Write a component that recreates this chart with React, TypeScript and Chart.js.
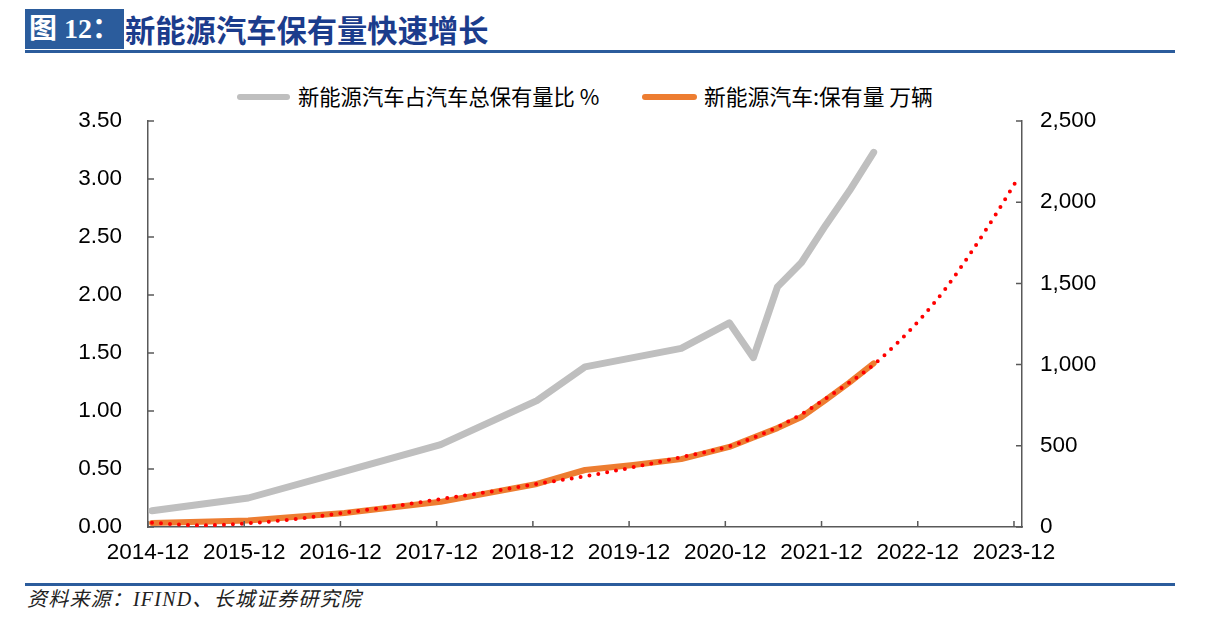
import React, { useEffect, useRef } from "react";
import { Chart, registerables } from "chart.js";

Chart.register(...registerables);

// ---- data ----
const xTickLabels = [
  "2014-12", "2015-12", "2016-12", "2017-12", "2018-12",
  "2019-12", "2020-12", "2021-12", "2022-12", "2023-12",
];

const shareDates = [
  "2014-12", "2015-12", "2016-12", "2017-12", "2018-12", "2019-06",
  "2020-06", "2020-12", "2021-03", "2021-06", "2021-09", "2021-12",
  "2022-03", "2022-06",
];
const shareValues = [
  0.14, 0.25, 0.48, 0.71, 1.09, 1.38, 1.54, 1.76, 1.46, 2.07, 2.28, 2.6, 2.9, 3.23,
];

const stockDates = [
  "2014-12", "2015-12", "2016-12", "2017-12", "2018-12", "2019-06",
  "2019-12", "2020-06", "2020-12", "2021-03", "2021-06", "2021-09",
  "2021-12", "2022-03", "2022-06",
];
const stockValues = [
  25, 40, 86, 155, 265, 351, 382, 418, 493, 551, 609, 677, 782, 891, 1008,
];

const trendDates = [
  "2014-12", "2015-06", "2015-12", "2016-06", "2016-12", "2017-06",
  "2017-12", "2018-06", "2018-12", "2019-06", "2019-12", "2020-06",
  "2020-12", "2021-03", "2021-06", "2021-09", "2021-12", "2022-03",
  "2022-06", "2022-09", "2022-12", "2023-03", "2023-06", "2023-09",
  "2023-12",
];
const trendValues = [
  26, 10, 23, 50, 88, 127, 172, 216, 266, 312, 368, 430,
  497, 550, 615, 695, 790, 890, 1000, 1135, 1290, 1470, 1680, 1907, 2147,
];

const legendShare = "新能源汽车占汽车总保有量比 %";
const legendStock = "新能源汽车:保有量 万辆";
const titleBox = "图 12：";
const titleText = "新能源汽车保有量快速增长";
const sourceText = "资料来源：IFIND、长城证券研究院";

// month index relative to 2014-12
const monthIndex = (s: string) => {
  const [y, m] = s.split("-").map(Number);
  return (y - 2014) * 12 + (m - 12);
};
// points sit in the middle of their month slot (date axis, between tick marks)
const toPoints = (dates: string[], vals: number[]) =>
  dates.map((d, i) => ({ x: monthIndex(d) + 0.5, y: vals[i] }));

const insideTicks = {
  id: "insideTicks",
  afterDraw(chart: any) {
    const { ctx, chartArea } = chart;
    const x = chart.scales.x;
    const yl = chart.scales.y;
    const yr = chart.scales.y2;
    ctx.save();
    ctx.strokeStyle = "#595959";
    ctx.lineWidth = 1.5;
    ctx.beginPath();
    x.ticks.forEach((t: any) => {
      const px = x.getPixelForValue(t.value);
      ctx.moveTo(px, chartArea.bottom);
      ctx.lineTo(px, chartArea.bottom - 6);
    });
    yl.ticks.forEach((t: any) => {
      const py = yl.getPixelForValue(t.value);
      ctx.moveTo(chartArea.left, py);
      ctx.lineTo(chartArea.left + 6, py);
    });
    yr.ticks.forEach((t: any) => {
      const py = yr.getPixelForValue(t.value);
      ctx.moveTo(chartArea.right, py);
      ctx.lineTo(chartArea.right - 6, py);
    });
    ctx.stroke();
    ctx.restore();
  },
};

const tickFont = { family: "'Liberation Sans', Arial, sans-serif", size: 22.5 };

export default function App() {
  const ref = useRef<HTMLCanvasElement | null>(null);

  useEffect(() => {
    if (!ref.current) return;
    const chart = new Chart(ref.current, {
      type: "line",
      data: {
        datasets: [
          {
            label: legendShare,
            data: toPoints(shareDates, shareValues),
            yAxisID: "y",
            borderColor: "#BFBFBF",
            borderWidth: 7,
            pointRadius: 0,
            tension: 0,
            borderJoinStyle: "round",
            borderCapStyle: "round",
            order: 3,
          },
          {
            label: legendStock,
            data: toPoints(stockDates, stockValues),
            yAxisID: "y2",
            borderColor: "#ED7D31",
            borderWidth: 6,
            pointRadius: 0,
            tension: 0,
            borderJoinStyle: "round",
            borderCapStyle: "round",
            order: 2,
          },
          {
            label: "trend",
            data: toPoints(trendDates, trendValues),
            yAxisID: "y2",
            borderColor: "#FF0000",
            borderWidth: 4,
            borderDash: [0, 9],
            borderCapStyle: "round",
            pointRadius: 0,
            cubicInterpolationMode: "monotone",
            order: 1,
          },
        ],
      },
      options: {
        animation: false,
        responsive: false,
        maintainAspectRatio: false,
        layout: { padding: { top: 61, left: 0, right: 0, bottom: 0 } },
        plugins: {
          legend: { display: false },
          tooltip: { enabled: false },
        },
        scales: {
          x: {
            type: "linear",
            min: 0,
            max: 109,
            afterBuildTicks: (s: any) => {
              s.ticks = xTickLabels.map((l) => ({ value: monthIndex(l) }));
            },
            afterFit: (s: any) => {
              s.height = 53;
            },
            ticks: {
              autoSkip: false,
              maxRotation: 0,
              padding: 12,
              color: "#000",
              font: tickFont,
              callback: (v: any) => {
                const i = xTickLabels.findIndex((l) => monthIndex(l) === v);
                return i >= 0 ? xTickLabels[i] : "";
              },
            },
            grid: { display: true, drawOnChartArea: false, drawTicks: false },
            border: { display: true, color: "#595959", width: 1.5 },
          },
          y: {
            type: "linear",
            position: "left",
            min: 0,
            max: 3.5,
            afterFit: (s: any) => {
              s.width = 148;
            },
            ticks: {
              stepSize: 0.5,
              padding: 26,
              color: "#000",
              font: tickFont,
              callback: (v: any) => Number(v).toFixed(2),
            },
            grid: { display: true, drawOnChartArea: false, drawTicks: false },
            border: { display: true, color: "#595959", width: 1.5 },
          },
          y2: {
            type: "linear",
            position: "right",
            min: 0,
            max: 2500,
            afterFit: (s: any) => {
              s.width = 194;
            },
            ticks: {
              stepSize: 500,
              padding: 18,
              color: "#000",
              font: tickFont,
              callback: (v: any) => Number(v).toLocaleString("en-US"),
            },
            grid: { display: true, drawOnChartArea: false, drawTicks: false },
            border: { display: true, color: "#595959", width: 1.5 },
          },
        },
      },
      plugins: [insideTicks],
    } as any);
    return () => chart.destroy();
  }, []);

  const cjkSans = "'Noto Sans CJK SC', 'Noto Sans', sans-serif";
  const serif = "'Liberation Serif', 'Noto Sans CJK SC', serif";

  return (
    <div
      style={{
        position: "absolute",
        left: 0,
        top: 0,
        width: 1216,
        height: 628,
        background: "#fff",
        overflow: "hidden",
      }}
    >
      {/* header */}
      <div
        style={{
          position: "absolute",
          left: 25,
          top: 9,
          width: 99,
          height: 40,
          background: "#2B5C9C",
          color: "#fff",
          fontFamily: serif,
          fontWeight: "bold",
          fontSize: 28,
          lineHeight: "40px",
          paddingLeft: 4,
          boxSizing: "border-box",
          whiteSpace: "nowrap",
        }}
      >
        {titleBox}
      </div>
      <div
        style={{
          position: "absolute",
          left: 125,
          top: 9,
          height: 40,
          lineHeight: "40px",
          color: "#1B3C8C",
          fontFamily: cjkSans,
          fontWeight: "bold",
          fontSize: 30.3,
          whiteSpace: "nowrap",
        }}
      >
        {titleText}
      </div>
      <div
        style={{
          position: "absolute",
          left: 25,
          top: 50,
          width: 1150,
          height: 3,
          background: "#2B5C9C",
        }}
      />

      {/* legend */}
      <div
        style={{
          position: "absolute",
          left: 237,
          top: 94,
          width: 53,
          height: 6,
          borderRadius: 3,
          background: "#BFBFBF",
        }}
      />
      <div
        style={{
          position: "absolute",
          left: 298,
          top: 82,
          lineHeight: "28px",
          fontFamily: cjkSans,
          fontSize: 21.3,
          color: "#000",
          whiteSpace: "nowrap",
        }}
      >
        {legendShare}
      </div>
      <div
        style={{
          position: "absolute",
          left: 642,
          top: 94,
          width: 55,
          height: 6,
          borderRadius: 3,
          background: "#ED7D31",
        }}
      />
      <div
        style={{
          position: "absolute",
          left: 704,
          top: 82,
          lineHeight: "28px",
          fontFamily: cjkSans,
          fontSize: 21.8,
          color: "#000",
          whiteSpace: "nowrap",
        }}
      >
        {legendStock}
      </div>

      {/* chart */}
      <canvas
        ref={ref}
        width={1216}
        height={520}
        style={{ position: "absolute", left: 0, top: 60, width: 1216, height: 520 }}
      />

      {/* footer */}
      <div
        style={{
          position: "absolute",
          left: 25,
          top: 583,
          width: 1150,
          height: 3,
          background: "#2B5C9C",
        }}
      />
      <div
        style={{
          position: "absolute",
          left: 27,
          top: 587,
          lineHeight: "24px",
          fontFamily: serif,
          fontStyle: "italic",
          fontSize: 20,
          letterSpacing: 1.2,
          color: "#222",
          whiteSpace: "nowrap",
        }}
      >
        {sourceText}
      </div>
    </div>
  );
}
